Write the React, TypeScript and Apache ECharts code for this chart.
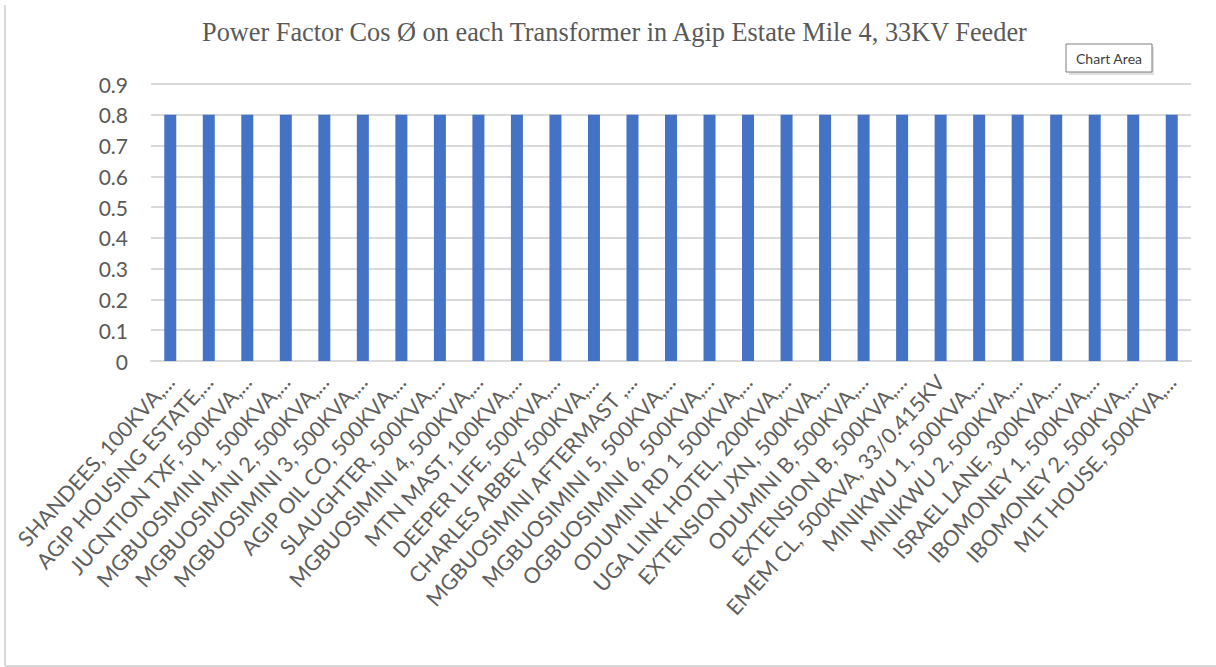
import React, { useEffect, useRef } from "react";
import * as echarts from "echarts";

const title = "Power Factor Cos Ø on each Transformer in Agip Estate Mile 4, 33KV Feeder";

const categories: string[] = [
  "SHANDEES, 100KVA,...",
  "AGIP HOUSING ESTATE,...",
  "JUCNTION TXF, 500KVA,...",
  "MGBUOSIMINI 1, 500KVA,...",
  "MGBUOSIMINI 2, 500KVA,...",
  "MGBUOSIMINI 3, 500KVA,...",
  "AGIP OIL CO, 500KVA,...",
  "SLAUGHTER, 500KVA,...",
  "MGBUOSIMINI 4, 500KVA,...",
  "MTN MAST, 100KVA,...",
  "DEEPER LIFE, 500KVA,...",
  "CHARLES ABBEY 500KVA,...",
  "MGBUOSIMINI AFTERMAST ,...",
  "MGBUOSIMINI 5, 500KVA,...",
  "OGBUOSIMINI 6, 500KVA,...",
  "ODUMINI RD 1 500KVA,...",
  "UGA LINK HOTEL, 200KVA,...",
  "EXTENSION JXN, 500KVA,...",
  "ODUMINI B, 500KVA,...",
  "EXTENSION B, 500KVA,...",
  "EMEM CL, 500KVA, 33/0.415KV",
  "MINIKWU 1, 500KVA,...",
  "MINIKWU 2, 500KVA,...",
  "ISRAEL LANE, 300KVA,...",
  "IBOMONEY 1, 500KVA,...",
  "IBOMONEY 2, 500KVA,...",
  "MLT HOUSE, 500KVA,...",
];

const powerFactor: number[] = [
  0.8, 0.8, 0.8, 0.8, 0.8, 0.8, 0.8, 0.8, 0.8, 0.8, 0.8, 0.8, 0.8, 0.8,
  0.8, 0.8, 0.8, 0.8, 0.8, 0.8, 0.8, 0.8, 0.8, 0.8, 0.8, 0.8, 0.8,
];

const yMin = 0;
const yMax = 0.9;
const yStep = 0.1;

export default function App() {
  const ref = useRef<HTMLDivElement>(null);

  useEffect(() => {
    document.body.style.margin = "0";
    if (!ref.current) return;
    const chart = echarts.init(ref.current, undefined, { renderer: "svg" });
    chart.setOption({
      animation: false,
      backgroundColor: "#ffffff",
      title: {
        text: title,
        left: 197,
        top: 14,
        textStyle: {
          fontFamily: "Liberation Serif",
          fontSize: 26.3,
          fontWeight: "normal",
          color: "#595959",
        },
      },
      grid: { left: 151, right: 25, top: 84, bottom: 306 },
      xAxis: {
        type: "category",
        data: categories,
        axisLine: { show: true, lineStyle: { color: "#d9d9d9", width: 2 } },
        axisTick: { show: false },
        axisLabel: {
          interval: 0,
          rotate: 48,
          fontFamily: "Lato",
          fontSize: 21.5,
          color: "#5f5f5f",
          margin: 17,
        },
      },
      yAxis: {
        type: "value",
        min: yMin,
        max: yMax,
        interval: yStep,
        axisLine: { show: false },
        axisTick: { show: false },
        splitLine: { lineStyle: { color: "#d9d9d9", width: 2 } },
        axisLabel: {
          fontFamily: "Lato",
          fontSize: 21,
          color: "#595959",
          margin: 23,
          formatter: (v: number) => String(Number(v.toFixed(1))),
        },
      },
      series: [
        {
          type: "bar",
          data: powerFactor,
          barWidth: 12,
          itemStyle: { color: "#4472C4" },
        },
      ],
      graphic: [
        {
          type: "line",
          shape: { x1: 5, y1: 5, x2: 5, y2: 666 },
          style: { stroke: "#d9d9d9", lineWidth: 2 },
        },
        {
          type: "line",
          shape: { x1: 5, y1: 666, x2: 1216, y2: 666 },
          style: { stroke: "#d9d9d9", lineWidth: 2 },
        },
        {
          type: "rect",
          shape: { x: 1069, y: 47, width: 85, height: 28 },
          style: { fill: "#bfbfbf", opacity: 0.5 },
        },
        {
          type: "rect",
          shape: { x: 1066, y: 44, width: 86, height: 28 },
          style: { fill: "#ffffff", stroke: "#7f7f7f", lineWidth: 1 },
        },
        {
          type: "text",
          x: 1109,
          y: 58,
          style: {
            text: "Chart Area",
            fontFamily: "Lato",
            fontSize: 14,
            fill: "#404040",
            align: "center",
            verticalAlign: "middle",
          },
        },
      ],
    });
    return () => chart.dispose();
  }, []);

  return <div ref={ref} style={{ width: 1216, height: 667 }} />;
}
